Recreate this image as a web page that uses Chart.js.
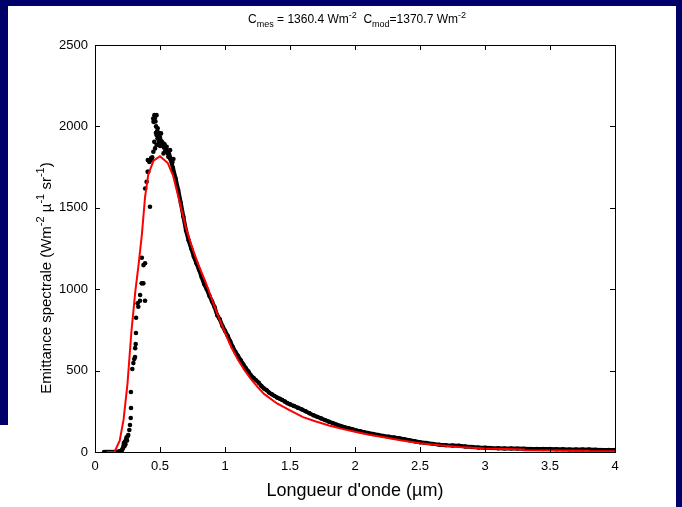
<!DOCTYPE html>
<html>
<head>
<meta charset="utf-8">
<script src="https://cdn.jsdelivr.net/npm/chart.js@4"></script>
<style>
html, body { margin: 0; padding: 0; background: #00006b; }
canvas { display: block; }
</style>
</head>
<body>
<canvas id="spectre" width="682" height="507"></canvas>
<script>
// mesures, zone du pic (nuage de points)
var mesPicX = [0.07, 0.08, 0.09, 0.10, 0.11, 0.12, 0.13, 0.14, 0.15, 0.16, 0.17, 0.18, 0.19, 0.20, 0.205,
  0.21, 0.215, 0.22, 0.222, 0.226, 0.23, 0.234, 0.238, 0.242, 0.246, 0.25, 0.256, 0.264, 0.269, 0.275,
  0.277, 0.276, 0.287, 0.295, 0.302, 0.308, 0.309, 0.313, 0.315, 0.316, 0.333, 0.328, 0.346, 0.385,
  0.347, 0.359, 0.372, 0.373, 0.385, 0.36, 0.423, 0.386, 0.397, 0.405, 0.41, 0.418, 0.406, 0.436,
  0.449, 0.462, 0.474, 0.456, 0.487, 0.508, 0.475, 0.482, 0.45, 0.457, 0.473, 0.448, 0.526, 0.551,
  0.538, 0.577, 0.564, 0.527, 0.59, 0.603, 0.46, 0.465, 0.47, 0.478, 0.49, 0.495, 0.5, 0.505, 0.51,
  0.515, 0.52, 0.53, 0.535, 0.545, 0.555, 0.56, 0.57, 0.575, 0.585, 0.595, 0.501, 0.491, 0.481,
  0.469, 0.44, 0.428, 0.432];
var mesPicY = [0, 0, 0, 0, 0, 0, 0, 0, 0, 0, 0, 2, 3, 6, 10,
  15, 25, 40, 55, 35, 62, 48, 75, 88, 70, 95, 104, 135, 166, 209,
  270, 369, 510, 546, 571, 583, 638, 663, 731, 825, 892, 913, 929, 929,
  964, 1036, 1036, 1148, 1159, 1193, 1506, 1619, 1660, 1721, 1721, 1782, 1793, 1793,
  1844, 1865, 1885, 1905, 1926, 1957, 1946, 1988, 2028, 2069, 2069, 2048, 1895, 1875,
  1844, 1854, 1813, 1834, 1793, 1800, 2050, 2030, 2000, 1970, 1960, 1940, 1930, 1915, 1900,
  1905, 1880, 1870, 1890, 1860, 1850, 1835, 1830, 1815, 1800, 1780, 1880, 1900, 1925,
  1960, 1810, 1795, 1805];

// mesures, queue du spectre (bande dense)
var mesQueueX = [0.56, 0.58, 0.60, 0.62, 0.64, 0.66, 0.68, 0.70, 0.72, 0.74, 0.76, 0.78, 0.80, 0.82,
  0.84, 0.86, 0.88, 0.90, 0.92, 0.94, 0.96, 0.98, 1.00, 1.02, 1.04, 1.06, 1.08, 1.10, 1.12, 1.14,
  1.16, 1.18, 1.20, 1.22, 1.24, 1.26, 1.28, 1.30, 1.32, 1.34, 1.36, 1.38, 1.40, 1.42, 1.44, 1.46,
  1.48, 1.50, 1.53, 1.56, 1.59, 1.62, 1.65, 1.68, 1.71, 1.74, 1.77, 1.80, 1.83, 1.86, 1.89, 1.92,
  1.95, 1.98, 2.01, 2.04, 2.07, 2.10, 2.14, 2.18, 2.22, 2.26, 2.30, 2.34, 2.38, 2.42, 2.46, 2.50,
  2.55, 2.60, 2.65, 2.70, 2.75, 2.80, 2.85, 2.90, 2.95, 3.00, 3.05, 3.10, 3.15, 3.20, 3.25, 3.30,
  3.35, 3.40, 3.45, 3.50, 3.55, 3.60, 3.65, 3.70, 3.75, 3.80, 3.85, 3.90, 3.95, 4.00];
var mesQueueY = [1840, 1800, 1745, 1680, 1610, 1530, 1445, 1360, 1300, 1250, 1200, 1160, 1120, 1075,
  1030, 1000, 960, 925, 890, 840, 815, 775, 745, 715, 680, 645, 615, 590, 565, 540,
  515, 495, 470, 455, 440, 425, 405, 390, 380, 365, 355, 345, 335, 328, 320, 310,
  300, 293, 283, 272, 262, 250, 238, 226, 216, 206, 196, 186, 177, 168, 160, 152,
  146, 140, 133, 127, 122, 117, 111, 105, 99, 94, 89, 84, 79, 72, 66, 60,
  55, 50, 45, 42, 40, 38, 34, 31, 28, 26, 24, 23, 22, 22, 21, 20,
  19, 19, 18, 18, 17, 17, 16, 16, 15, 15, 14, 13, 13, 12];

// modele (courbe rouge)
var modX = [0.09, 0.15, 0.19, 0.22, 0.25, 0.28, 0.31, 0.335, 0.36, 0.385, 0.41, 0.45, 0.5, 0.56, 0.6,
  0.65, 0.7, 0.75, 0.8, 0.85, 0.9, 0.95, 1.0, 1.05, 1.1, 1.15, 1.2, 1.25, 1.3, 1.4, 1.5, 1.6, 1.7,
  1.8, 1.9, 2.0, 2.1, 2.2, 2.35, 2.5, 2.65, 2.8, 3.0, 3.3, 3.3, 3.8, 3.8, 4.0];
var modY = [0, 0, 70, 200, 420, 740, 985, 1150, 1330, 1565, 1705, 1790, 1817, 1775, 1700,
  1540, 1375, 1250, 1140, 1045, 935, 830, 733, 642, 566, 502, 448, 400, 357, 298, 255, 214, 187,
  163, 142, 124, 107, 94, 72, 54, 42, 30, 21, 16, 11, 8, 6, 5];

var xTicks = [0, 0.5, 1, 1.5, 2, 2.5, 3, 3.5, 4];
var yTicks = [0, 500, 1000, 1500, 2000, 2500];

function pts(xs, ys) {
  return xs.map(function (x, i) { return { x: x, y: ys[i] }; });
}

var FONT = '"Liberation Sans", Arial, sans-serif';
Chart.defaults.font.family = FONT;
Chart.defaults.color = '#000';

// texte avec indices / exposants
function richText(ctx, parts, x, y, size) {
  var small = Math.round(size * 0.75);
  var w = 0;
  parts.forEach(function (p) {
    ctx.font = (p.s ? small : size) + 'px ' + FONT;
    p.w = ctx.measureText(p.t).width;
    w += p.w;
  });
  var cx = x - w / 2;
  ctx.textAlign = 'left';
  ctx.textBaseline = 'alphabetic';
  parts.forEach(function (p) {
    ctx.font = (p.s ? small : size) + 'px ' + FONT;
    var dy = p.s === 1 ? size * 0.33 : (p.s === -1 ? -size * 0.45 : 0);
    ctx.fillText(p.t, cx, y + dy);
    cx += p.w;
  });
}

var fond = {
  id: 'fond',
  beforeDraw: function (chart) {
    var ctx = chart.ctx;
    ctx.save();
    ctx.fillStyle = '#00006b';
    ctx.fillRect(0, 0, 682, 507);
    ctx.fillStyle = '#ffffff';
    ctx.fillRect(8, 6, 668, 501);
    ctx.fillRect(0, 425, 676, 82);
    ctx.restore();
  }
};

var cadre = {
  id: 'cadre',
  afterDraw: function (chart) {
    var ctx = chart.ctx, a = chart.chartArea;
    var sx = chart.scales.x, sy = chart.scales.y;
    ctx.save();
    ctx.strokeStyle = '#000';
    ctx.lineWidth = 1;
    ctx.strokeRect(a.left + 0.5, a.top + 0.5, a.right - a.left, a.bottom - a.top);
    ctx.beginPath();
    sx.ticks.forEach(function (t) {
      var px = Math.round(sx.getPixelForValue(t.value)) + 0.5;
      ctx.moveTo(px, a.bottom); ctx.lineTo(px, a.bottom - 5);
      ctx.moveTo(px, a.top); ctx.lineTo(px, a.top + 5);
    });
    sy.ticks.forEach(function (t) {
      var py = Math.round(sy.getPixelForValue(t.value)) + 0.5;
      ctx.moveTo(a.left, py); ctx.lineTo(a.left + 5, py);
      ctx.moveTo(a.right, py); ctx.lineTo(a.right - 5, py);
    });
    ctx.stroke();

    ctx.fillStyle = '#000';
    richText(ctx, [
      { t: 'C' }, { t: 'mes', s: 1 }, { t: ' = 1360.4 Wm' }, { t: '-2', s: -1 },
      { t: '  C' }, { t: 'mod', s: 1 }, { t: '=1370.7 Wm' }, { t: '-2', s: -1 }
    ], 357, 23, 12);

    ctx.translate(45, 278);
    ctx.rotate(-Math.PI / 2);
    richText(ctx, [
      { t: 'Emittance spectrale (Wm' }, { t: '-2', s: -1 }, { t: ' \u00b5' }, { t: '-1', s: -1 },
      { t: ' sr' }, { t: '-1', s: -1 }, { t: ')' }
    ], 0, 6, 15);
    ctx.restore();
  }
};

new Chart(document.getElementById('spectre'), {
  type: 'scatter',
  data: {
    datasets: [
      {
        label: 'Mesure (pic)',
        data: pts(mesPicX, mesPicY),
        showLine: false,
        pointRadius: 2.3,
        pointBorderWidth: 0,
        backgroundColor: '#000',
        order: 2
      },
      {
        label: 'Mesure',
        data: pts(mesQueueX, mesQueueY),
        showLine: true,
        borderColor: '#000',
        borderWidth: 4,
        pointRadius: 2.2,
        pointBorderWidth: 0,
        backgroundColor: '#000',
        order: 1
      },
      {
        label: 'Modele',
        data: pts(modX, modY),
        showLine: true,
        borderColor: '#ff0000',
        borderWidth: 2,
        pointRadius: 0,
        tension: 0,
        order: 0
      }
    ]
  },
  options: {
    responsive: false,
    animation: false,
    devicePixelRatio: 1,
    layout: { padding: { left: 0, top: 45, right: 67, bottom: 0 } },
    plugins: { legend: { display: false }, tooltip: { enabled: false } },
    scales: {
      x: {
        type: 'linear', min: 0, max: 4,
        afterFit: function (s) { s.height = 55; },
        afterBuildTicks: function (s) { s.ticks = xTicks.map(function (v) { return { value: v }; }); },
        grid: { display: false, drawTicks: false },
        border: { display: false },
        ticks: { padding: 7, font: { size: 13 }, color: '#000', callback: function (v) { return String(v); } },
        title: { display: true, text: "Longueur d'onde (\u00b5m)", font: { size: 18 }, color: '#000', padding: { top: 0, bottom: 5 } }
      },
      y: {
        type: 'linear', min: 0, max: 2500,
        afterFit: function (s) { s.width = 95; },
        afterBuildTicks: function (s) { s.ticks = yTicks.map(function (v) { return { value: v }; }); },
        grid: { display: false, drawTicks: false },
        border: { display: false },
        ticks: { padding: 7, font: { size: 13 }, color: '#000', callback: function (v) { return String(v); } }
      }
    }
  },
  plugins: [fond, cadre]
});
</script>
</body>
</html>
